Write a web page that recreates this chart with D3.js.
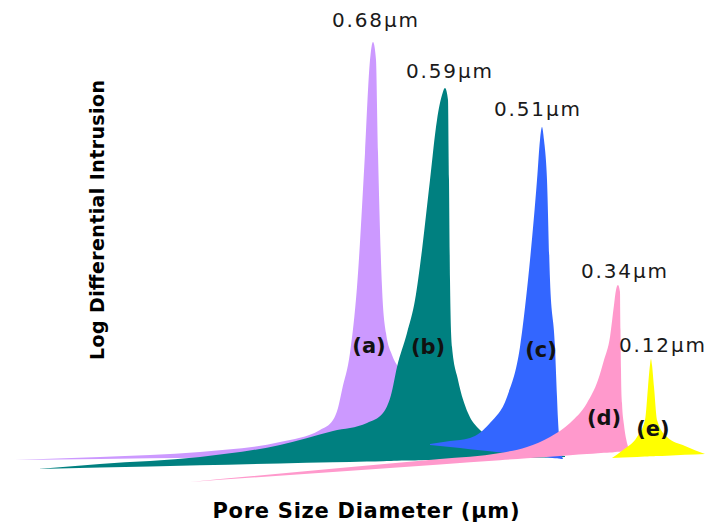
<html>
<head>
<script src="https://d3js.org/d3.v7.min.js"></script>
<style>
  body { margin: 0; background: #fff; }
  .peak { font-family: "DejaVu Sans", sans-serif; font-size: 20px; fill: #1a1a1a; }
  .tag { font-family: "DejaVu Sans", sans-serif; font-weight: bold; font-size: 21px; fill: #111; }
  .title { font-family: "DejaVu Sans", sans-serif; font-weight: bold; fill: #000; }
</style>
</head>
<body>
<script>
// schematic pore-size curves, x = relative pore size, y = log differential intrusion
// each curve: upper outline, plus its (tilted) base line
var curveA = [[3,8],[20,8.6],[40,9.6],[56,11.6],[64,14],[66.6,16],[67.6,18.4],[68.4,22],[70,29.4],[71.4,42.6],[73,69.4],[74,88],[74.6,91.6],[75.2,88],[75.6,69.4],[76.4,42.6],[77.2,33.4],[78.4,29],[79.6,26.6],[82,23],[84,18]];
var baseA = [[3,8],[84,9]];

var curveB = [[7.6,6.2],[20,7.2],[40,8.6],[56,11],[66.6,13.8],[73.4,15.4],[76.6,17.4],[78.2,21],[79.4,26.6],[81.4,33.4],[83,40],[84.4,50],[86,64],[87.4,76],[88.4,81],[89,82.4],[89.6,80],[89.8,64],[90,44],[90.4,30.6],[91.6,24],[93.6,17.4],[96,14],[98.4,12.4],[106,10],[113,8.8]];
var baseB = [[7.6,6.2],[113,8.6]];

var curveC = [[86,11.2],[90,11.8],[94,12.4],[98,15.4],[101.4,20.6],[104,30.6],[105.6,44],[107.4,64],[108,72],[108.4,74.6],[108.8,72],[109.4,64],[110,44],[111,30.6],[111.4,20.6],[111.6,16],[112,11],[112.6,8.2]];
var baseC = [[86,11],[112.6,8.2]];

var curveD = [[38,3.6],[68,6.4],[88,8.2],[100,9.4],[105.4,10.6],[110,12.6],[114,15.4],[117.4,19.4],[119.6,24],[120.8,28],[122,32.6],[122.8,39],[123.2,42],[123.6,43],[124,41.6],[124.1,34],[124.2,26],[124.4,19.4],[124.8,15],[125.4,11.4],[126,9.8]];
var baseD = [[38,3.6],[126,9.8]];

var curveE = [[122.4,8.4],[124.6,10],[127.4,12.6],[129,16],[129.6,22.6],[130,27],[130.2,28.2],[130.4,27],[130.8,22.6],[131.4,16],[133.4,12.6],[137,10.8],[141,9.2]];
var baseE = [[122.4,8.4],[141,9.2]];

var peakLabels = ["0.68\u00b5m","0.59\u00b5m","0.51\u00b5m","0.34\u00b5m","0.12\u00b5m"];
var sampleTags = ["(a)","(b)","(c)","(d)","(e)"];
var colors = ["#cc99ff","#008080","#3366ff","#ff99cc","#ffff00"];

// layout only
var peakOffset = [[2,-15],[4,-10],[-5,-11],[6,-7],[11,-7]];
var tagPos = [[369,353],[428,354],[541,357],[604,425],[653,436]];

var width = 708, height = 527;

var x = d3.scaleLinear().domain([0,140]).range([0,700]);
var y = d3.scaleLinear().domain([0,100]).range([500,0]);

var svg = d3.select("body").append("svg")
  .attr("width", width)
  .attr("height", height);

var series = [
  {top: curveA, base: baseA},
  {top: curveB, base: baseB},
  {top: curveC, base: baseC},
  {top: curveD, base: baseD},
  {top: curveE, base: baseE}
];

function baseAt(b, v) {
  var t = (v - b[0][0]) / (b[1][0] - b[0][0]);
  return b[0][1] + t * (b[1][1] - b[0][1]);
}

series.forEach(function(s, i){
  var area = d3.area()
    .curve(d3.curveMonotoneX)
    .x(function(d){ return x(d[0]); })
    .y1(function(d){ return y(d[1]); })
    .y0(function(d){ return y(baseAt(s.base, d[0])); });

  svg.append("path")
    .datum(s.top)
    .attr("fill", colors[i])
    .attr("d", area);
});

// peak value labels
series.forEach(function(s, i){
  var pk = s.top.reduce(function(a, b){ return b[1] > a[1] ? b : a; });
  svg.append("text")
    .attr("class", "peak")
    .attr("x", x(pk[0]) + peakOffset[i][0])
    .attr("y", y(pk[1]) + peakOffset[i][1])
    .attr("text-anchor", "middle")
    .attr("textLength", 86)
    .attr("lengthAdjust", "spacing")
    .text(peakLabels[i]);
});

svg.selectAll(".tag")
  .data(sampleTags)
  .enter().append("text")
  .attr("class", "tag")
  .attr("x", function(d, i){ return tagPos[i][0]; })
  .attr("y", function(d, i){ return tagPos[i][1]; })
  .attr("text-anchor", "middle")
  .text(function(d){ return d; });

// axis titles
svg.append("text")
  .attr("class", "title")
  .attr("transform", "translate(104,220) rotate(-90)")
  .attr("text-anchor", "middle")
  .style("font-size", "19px")
  .attr("textLength", 280)
  .attr("lengthAdjust", "spacing")
  .text("Log Differential Intrusion");

svg.append("text")
  .attr("class", "title")
  .attr("x", 366)
  .attr("y", 518)
  .attr("text-anchor", "middle")
  .style("font-size", "21px")
  .attr("textLength", 307)
  .attr("lengthAdjust", "spacing")
  .text("Pore Size Diameter (\u00b5m)");
</script>
</body>
</html>
